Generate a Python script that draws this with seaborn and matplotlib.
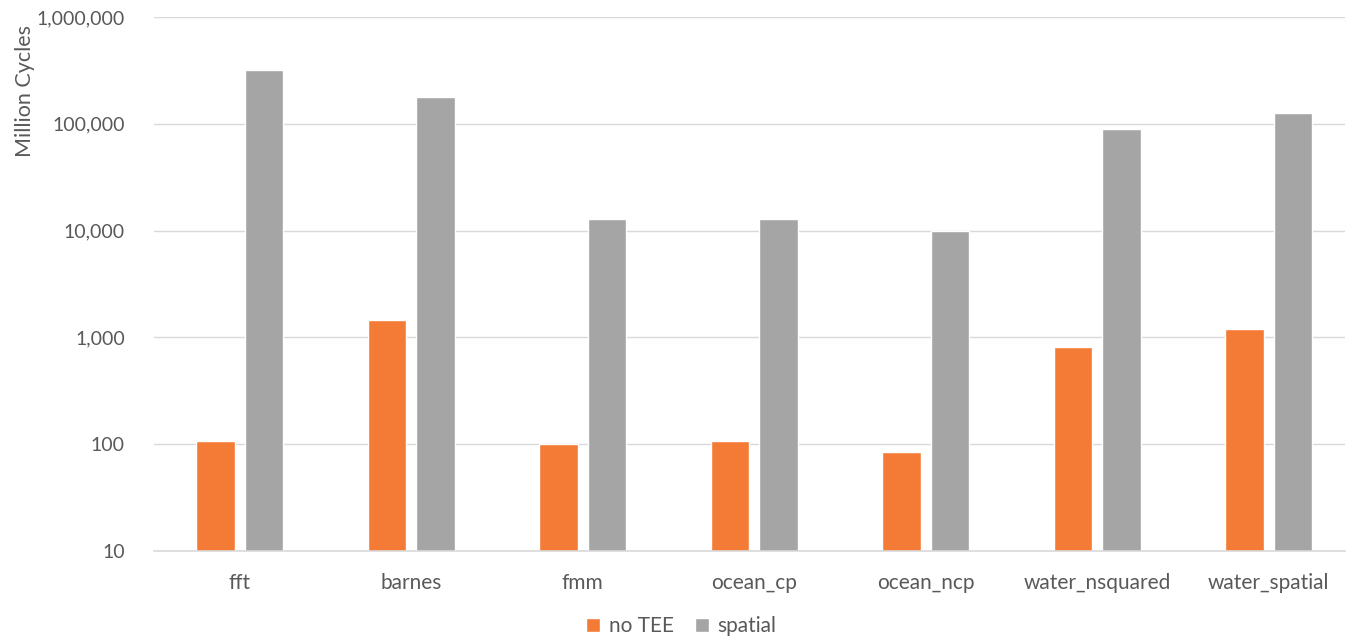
import matplotlib
matplotlib.use("Agg")
import matplotlib.pyplot as plt
import matplotlib.ticker as mticker
import pandas as pd
import seaborn as sns

BENCHMARKS = ["fft", "barnes", "fmm", "ocean_cp", "ocean_ncp",
              "water_nsquared", "water_spatial"]
NO_TEE = [107, 1470, 100, 107, 84, 807, 1190]
SPATIAL = [320000, 179000, 12900, 12900, 10000, 90000, 127000]
SERIES = ["no TEE", "spatial"]
COLORS = ["#F47B36", "#A5A5A5"]
Y_TICKS = [10, 100, 1000, 10000, 100000, 1000000]

TEXT = "#595959"
GRID = "#D9D9D9"

df = pd.DataFrame({
    "benchmark": BENCHMARKS * 2,
    "series": [SERIES[0]] * len(BENCHMARKS) + [SERIES[1]] * len(BENCHMARKS),
    "cycles": NO_TEE + SPATIAL,
})

sns.set_theme(style="white")
plt.rcParams["font.family"] = ["Lato", "DejaVu Sans"]

fig = plt.figure(figsize=(13.49, 6.36), dpi=100)
ax = fig.add_axes([154 / 1349, 85 / 636, 1191 / 1349, 534 / 636])

sns.barplot(data=df, x="benchmark", y="cycles", hue="series",
            palette=COLORS, saturation=1, width=0.565, gap=0.204, ax=ax,
            errorbar=None, legend=True)
ax.set_yscale("log")
ax.set_ylim(10, 1000000)
ax.set_xlim(-0.5, 6.445)
ax.yaxis.set_major_locator(mticker.FixedLocator(Y_TICKS))
ax.yaxis.set_minor_locator(mticker.NullLocator())
ax.yaxis.set_major_formatter(mticker.FuncFormatter(lambda v, _: f"{v:,.0f}"))
ax.grid(axis="y", color=GRID, linewidth=1)
ax.set_axisbelow(True)
for side in ["top", "right", "left"]:
    ax.spines[side].set_visible(False)
ax.spines["bottom"].set_color(GRID)
ax.spines["bottom"].set_linewidth(1.2)
ax.tick_params(axis="y", length=0, labelsize=14, colors=TEXT, pad=21)
ax.tick_params(axis="x", length=0, labelsize=15, colors=TEXT, pad=16)
ax.set_xlabel("")
ax.set_ylabel("Million Cycles", fontsize=15.5, color=TEXT)
ax.yaxis.set_label_coords(-0.1, 0.861)

handles, labels = ax.get_legend_handles_labels()
ax.legend_.remove()
fig.legend(handles, labels, loc="lower center", bbox_to_anchor=(0.505, -0.03),
           ncol=2, frameon=False, fontsize=15, labelcolor=TEXT,
           handlelength=0.7, handleheight=0.7, handletextpad=0.4,
           columnspacing=1.0)

fig.savefig("out.png", dpi=100)
